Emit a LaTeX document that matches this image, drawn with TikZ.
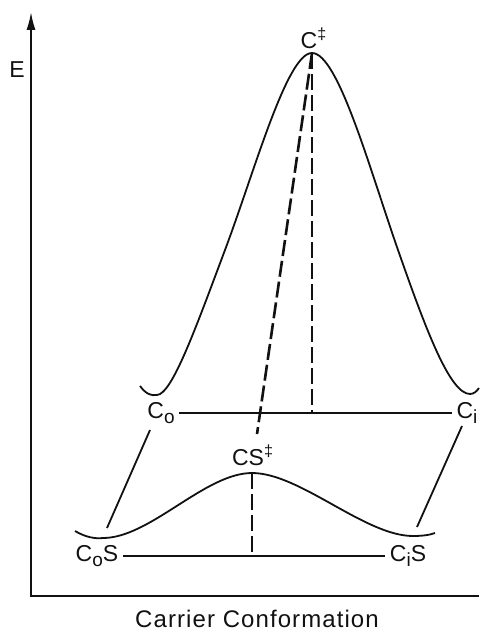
\documentclass[tikz,border=0pt]{standalone}
\usepackage{fontspec}
\setmainfont{Liberation Sans}
\usetikzlibrary{arrows.meta,positioning}
\definecolor{inkline}{HTML}{111111}
\newcommand{\lowsub}[1]{\raisebox{-.4ex}{\fontsize{9.5}{10}\selectfont #1}}

\begin{document}
\begin{tikzpicture}[x=.5pt,y=-.5pt,line width=.9pt,draw=inkline,
 font=\fontsize{11.5}{13}\selectfont,
 lab/.style={inner sep=2pt,text=inkline},
 guide/.style={dash pattern=on 8pt off 2.5pt,line width=1.3pt}]
\useasboundingbox (0,0) rectangle (479,630);
% axes
\coordinate (ytop) at (31,12); \coordinate (orig) at (31,596); \coordinate (xend) at (479,596);
\draw[{Latex[length=9pt,width=4.5pt]}-] (ytop)--(orig)--(xend);
\node[lab] (E) at (17,70) {E};
\node[lab,inner sep=0pt,font=\fontsize{12}{14}\selectfont\addfontfeature{LetterSpace=4.5}] (xlab) at (257,619) {Carrier Conformation};
% free carrier
\draw (140,386) .. controls (146,394) and (151,396) .. (157,395)
 .. controls (172,394) and (195,330) .. (225,250)
 .. controls (255,170) and (287,53) .. (312,53)
 .. controls (338,53) and (370,170) .. (398,250)
 .. controls (426,330) and (450,394) .. (470,394)
 .. controls (474,394) and (477,391) .. (479,388);
\node[lab] (Cd) at (314,38) {C\textsuperscript{\ddag}};
\node[lab] (Co) at (161,413) {C\lowsub{o}};
\node[lab] (Ci) at (467,413) {C\lowsub{i}};
\draw (Co) -- (Ci);
% loaded carrier
\draw (75,531) .. controls (85,537) and (95,539) .. (103,538)
 .. controls (150,538) and (205,473) .. (252,473)
 .. controls (300,473) and (365,536) .. (413,536)
 .. controls (422,536) and (430,535) .. (435,533);
\node[lab] (CSd) at (253,455) {CS\textsuperscript{\ddag}};
\node[lab] (CoS) at (97,556) {C\lowsub{o}S};
\node[lab] (CiS) at (408,556) {C\lowsub{i}S};
\draw (CoS) -- (CiS);
% barriers
\coordinate (Cpk) at (312,53);
\coordinate (CSpk) at (252,473);
\coordinate (CSend) at (257,434);
\draw[guide] (Cpk) -- (Cpk |- Co);
\draw[guide] (Cpk) -- (CSend);
\draw[guide] (CSpk) -- (CSpk |- CoS);
% binding links
\coordinate (linkO) at (150,430); \coordinate (wellO) at (107,528);
\coordinate (linkI) at (462,426); \coordinate (wellI) at (417,527);
\draw (linkO) -- (wellO);
\draw (linkI) -- (wellI);
\end{tikzpicture}
\end{document}
